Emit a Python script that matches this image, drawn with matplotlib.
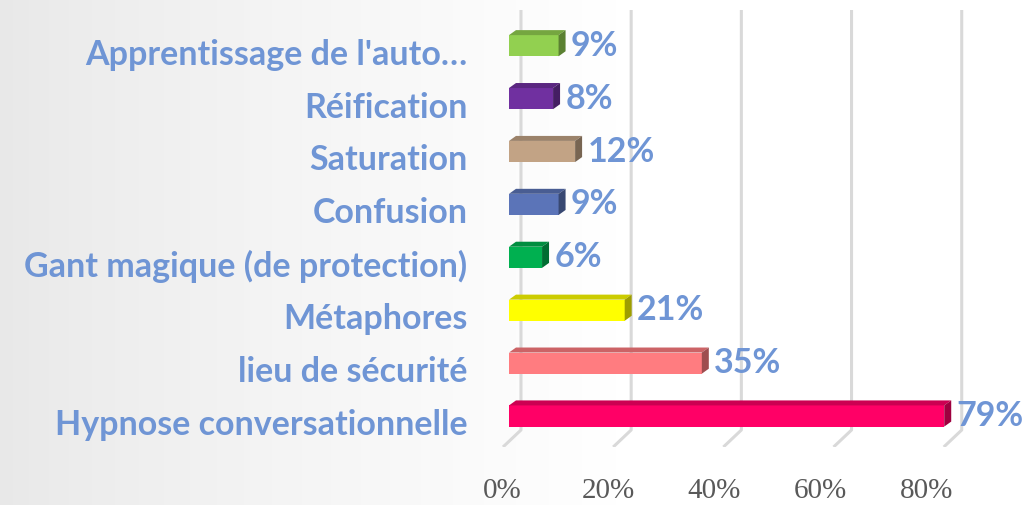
import numpy as np
import matplotlib.pyplot as plt
from matplotlib.colors import to_rgb
from matplotlib.patches import Polygon
from matplotlib.transforms import ScaledTranslation

# données (de bas en haut)
categories = ["Hypnose conversationnelle", "lieu de sécurité", "Métaphores",
              "Gant magique (de protection)", "Confusion", "Saturation",
              "Réification", "Apprentissage de l'auto…"]
values = [79, 35, 21, 6, 9, 12, 8, 9]
bar_colors = ["#FF0066", "#FF7C80", "#FFFF00", "#00B050",
              "#5B74B8", "#C2A385", "#7030A0", "#92D050"]
xticks = [0, 20, 40, 60, 80]

label_color = "#6F95D5"
W, H = 1025, 505

fig = plt.figure(figsize=(W / 100, H / 100), dpi=100)

# fond dégradé gris -> blanc
bg = fig.add_axes([0, 0, 1, 1], zorder=-10)
gx = np.linspace(0, 1, 400)
gy = np.linspace(0, 1, 200)
XX, YY = np.meshgrid(gx, gy)
shade = 0.91 + 0.09 * np.clip(XX / 0.6, 0, 1) ** 0.8
bg.imshow(np.dstack([shade] * 3), aspect="auto", extent=[0, 1, 0, 1])
bg.axis("off")

# échelle : 0% en façade à x=508 px, 5.52 px par %
px_per_pct = 5.52
x0_px = 508
left_px = 502
xmin = (left_px - x0_px) / px_per_pct
xmax = (W - x0_px) / px_per_pct

# y : centre de la barre i à 416 - 52.9*i px (depuis le haut)
step = 52.9
ybot_px = 447
ymin = (416 - ybot_px) / step
ymax = 416 / step

ax = fig.add_axes([left_px / W, (H - ybot_px) / H, (W - left_px) / W, ybot_px / H])
ax.set_xlim(xmin, xmax)
ax.set_ylim(ymin, ymax)
ax.patch.set_alpha(0)
for s in ax.spines.values():
    s.set_visible(False)

# profondeur 3D
dx = 7 / px_per_pct
dy = 5 / step
back_dx = 12 / px_per_pct
grid_top = (416 - 10) / step
grid_floor = (416 - 430) / step

# quadrillage (mur du fond + sol en diagonale)
for t in xticks:
    ax.plot([t + back_dx, t + back_dx, xmin + t], [grid_top, grid_floor, ymin],
            color="#D9D9D9", lw=2.2, zorder=1, solid_capstyle="butt")

h = 0.40
ypos = np.arange(len(categories))
ax.barh(ypos, values, height=h, color=bar_colors, zorder=3, edgecolor="none")

for i, (v, c) in enumerate(zip(values, bar_colors)):
    rgb = np.array(to_rgb(c))
    y0, y1 = i - h / 2, i + h / 2
    top = Polygon([(0, y1), (v, y1), (v + dx, y1 + dy), (dx, y1 + dy)],
                  closed=True, facecolor=rgb * 0.8, edgecolor="none", zorder=3)
    side = Polygon([(v, y0), (v, y1), (v + dx, y1 + dy), (v + dx, y0 + dy)],
                   closed=True, facecolor=rgb * 0.62, edgecolor="none", zorder=3)
    ax.add_patch(top)
    ax.add_patch(side)
    ax.annotate(f"{v}%", xy=(v, i), xytext=(9, 0), textcoords="offset points",
                va="center", ha="left", fontsize=24.5, fontweight="bold",
                family="Lato", color=label_color, zorder=5)

ax.set_yticks(ypos)
ax.set_yticklabels(categories, fontsize=24.5, fontweight="bold", family="Lato",
                   color=label_color)
ax.tick_params(axis="y", length=0, pad=25)
shift = ScaledTranslation(0, -0.06, fig.dpi_scale_trans)
for lbl in ax.get_yticklabels():
    lbl.set_transform(lbl.get_transform() + shift)

# étiquettes de l'axe x (légère perspective du sol)
persp = 0.9625
ax.set_xticks([t * persp - 1.27 for t in xticks])
ax.set_xticklabels([f"{t}%" for t in xticks], fontsize=21, family="Liberation Serif",
                   color="#595959")
ax.tick_params(axis="x", length=0, pad=22)

fig.savefig("out.png", dpi=100)
